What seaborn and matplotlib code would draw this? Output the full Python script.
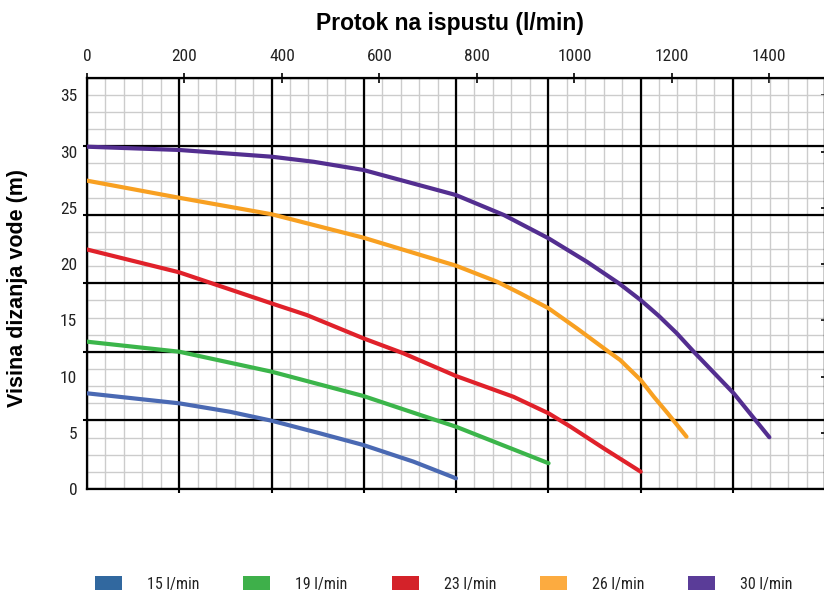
import numpy as np
import pandas as pd
import matplotlib
matplotlib.use("Agg")
import matplotlib.pyplot as plt
from matplotlib import font_manager
from matplotlib.patches import Patch
import seaborn as sns

# ----------- Data -----------

pump_names = ["15 l/min", "19 l/min", "23 l/min", "26 l/min", "30 l/min"]

flow_15 = [0, 189, 293, 379, 478, 567, 670, 757]
head_15 = [8.51, 7.62, 6.87, 6.07, 4.95, 3.91, 2.43, 0.95]

flow_19 = [0, 189, 379, 567, 684, 757, 947]
head_19 = [13.1, 12.21, 10.43, 8.27, 6.58, 5.54, 2.29]

flow_23 = [0, 189, 379, 451, 567, 649, 757, 875, 947, 992, 1060, 1136]
head_23 = [21.3, 19.27, 16.5, 15.47, 13.4, 12.07, 10.05, 8.2, 6.73, 5.54, 3.62, 1.54]

flow_26 = [0, 189, 379, 567, 757, 841, 889, 947, 1005, 1070, 1094, 1136, 1163, 1192, 1230]
head_26 = [27.42, 25.9, 24.43, 22.35, 19.86, 18.44, 17.4, 16.07, 14.29, 12.21, 11.47, 9.69, 8.2, 6.7, 4.65]

flow_30 = [0, 189, 379, 465, 567, 757, 855, 947, 1026, 1091, 1136, 1173, 1210, 1245, 1327, 1400]
head_30 = [30.44, 30.15, 29.55, 29.1, 28.37, 26.14, 24.37, 22.29, 20.2, 18.3, 16.8, 15.4, 13.85, 12.2, 8.5, 4.6]

x_ticks = [0, 200, 400, 600, 800, 1000, 1200, 1400]
y_ticks = [0, 5, 10, 15, 20, 25, 30, 35]

line_colors = ["#4a69b3", "#3bb54a", "#e0212a", "#f8a021", "#532e90"]
legend_colors = ["#31689f", "#3eb04a", "#d42229", "#fcab40", "#5a3c98"]

# the printed grid is in US gal/min and feet, the labels in l/min and m
GAL = 3.78541
FT = 0.3048

# ----------- Build dataframe -----------

flows = [flow_15, flow_19, flow_23, flow_26, flow_30]
heads = [head_15, head_19, head_23, head_26, head_30]
frames = []
for name, q, h in zip(pump_names, flows, heads):
    frames.append(pd.DataFrame({"flow": q, "head": h, "pump": name}))
df = pd.concat(frames, ignore_index=True)

# ----------- Fonts -----------

sns.set_theme(style="white")
available = {f.name for f in font_manager.fontManager.ttflist}
narrow = None
for cand in ["Liberation Sans Narrow", "Roboto Condensed"]:
    if cand in available:
        narrow = cand
        break
if narrow is None:
    narrow = "Roboto"
    tick_size, legend_size = 11, 10
else:
    tick_size, legend_size = 12.5, 11.5
plt.rcParams["font.family"] = [narrow, "DejaVu Sans"]
em = legend_size * 100 / 72  # legend font size in pixels

# ----------- Plot -----------

fig = plt.figure(figsize=(8.24, 5.95), dpi=100)
ax = fig.add_axes([87 / 824, 1 - 489 / 595, 738 / 824, 411.3 / 595])

xmax = 400 * GAL
ymax = 120 * FT

# grid: minor every 10 gal/min and 5 ft, major every 50 gal/min and 20 ft
minor_x = np.arange(0, 41) * 10 * GAL
minor_y = np.arange(0, 25) * 5 * FT
major_x = np.arange(0, 9) * 50 * GAL
major_y = np.arange(0, 7) * 20 * FT
ax.vlines(minor_x, 0, ymax, color="#cccccc", lw=1.0, zorder=1)
ax.hlines(minor_y, 0, xmax, color="#cccccc", lw=1.0, zorder=1)
ax.vlines(major_x, 0, ymax, color="black", lw=1.6, zorder=2)
ax.hlines(major_y, 0, xmax, color="black", lw=1.6, zorder=2)

sns.lineplot(data=df, x="flow", y="head", hue="pump", palette=line_colors,
             sort=False, estimator=None, linewidth=3, legend=False,
             ax=ax, zorder=3)

ax.set_xlim(0, xmax)
ax.set_ylim(0, ymax)

for sp in ax.spines.values():
    sp.set_color("black")
    sp.set_linewidth(1.6)

ax.set_xticks(x_ticks)
ax.set_xticklabels([str(v) for v in x_ticks])
ax.set_xticks(major_x[:-1], minor=True)
ax.tick_params(axis="x", which="major", top=True, bottom=False, labeltop=True,
               labelbottom=False, direction="inout", length=6.5, width=1.2,
               pad=6.5, labelsize=tick_size, labelcolor="#222222", color="black")
ax.tick_params(axis="x", which="minor", top=False, bottom=True,
               direction="out", length=3, width=1.5, color="black")

ax.set_yticks(y_ticks)
ax.set_yticklabels([str(v) for v in y_ticks])
ax.set_yticks(major_y[:-1], minor=True)
ax.tick_params(axis="y", which="major", left=False, right=True, labelleft=True,
               direction="in", length=3, width=1.2, pad=7,
               labelsize=tick_size, labelcolor="#222222", color="black")
ax.tick_params(axis="y", which="minor", left=True, right=False,
               direction="out", length=3, width=1.5, color="black")

ax.xaxis.set_label_position("top")
ax.set_xlabel("Protok na ispustu (l/min)", fontsize=16.5, fontweight="bold",
              family="Liberation Sans", color="black")
ax.xaxis.set_label_coords(0.492, 1.117)
ax.set_ylabel("Visina dizanja vode (m)", fontsize=15.5, fontweight="bold",
              family="Liberation Sans", color="black")
ax.yaxis.set_label_coords(-0.08, 0.4875)

# legend patches ~27x14 px, ~149 px apart
handles = [Patch(facecolor=c, edgecolor="none") for c in legend_colors]
fig.legend(handles, pump_names, loc="center left", ncol=5,
           bbox_to_anchor=(95 / 824, 1 - 584 / 595), frameon=False,
           fontsize=legend_size, handlelength=27 / em, handleheight=14 / em,
           handletextpad=25 / em, columnspacing=44 / em, borderpad=0,
           borderaxespad=0, labelcolor="#222222")

fig.savefig("out.png", dpi=100)
